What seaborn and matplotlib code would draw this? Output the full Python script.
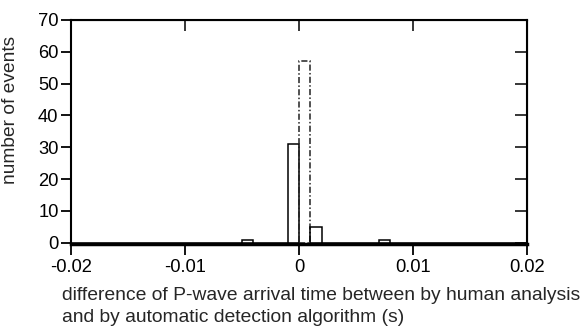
import matplotlib
matplotlib.use("Agg")
import matplotlib.pyplot as plt
import seaborn as sns
import numpy as np

# data: histogram bins (s) and counts
bin_edges = [-0.02 + 0.001 * i for i in range(41)]
bin_centers = [-0.0045, -0.0005, 0.0005, 0.0015, 0.0075]
counts = [1, 31, 57, 5, 1]
xticks = [-0.02, -0.01, 0, 0.01, 0.02]
xticklabels = ["-0.02", "-0.01", "0", "0.01", "0.02"]
yticks = [0, 10, 20, 30, 40, 50, 60, 70]

sns.set_style("white")
plt.rcParams['font.family'] = ['Liberation Sans', 'DejaVu Sans']

fig = plt.figure(figsize=(5.86, 3.29), dpi=100)
ax = fig.add_axes([71/586, 1-244/329, (527-71)/586, (244-20)/329])

sns.histplot(x=bin_centers, weights=counts, bins=bin_edges, fill=False,
             element="bars", color="black", edgecolor="black", linewidth=1.1, ax=ax)
# the tallest bar is drawn with a broken outline in the reference
tallest = max(ax.patches, key=lambda p: p.get_height())
tallest.set_linestyle((0, (4, 1.5, 1, 1.5)))
tallest.set_edgecolor("#222222")

ax.set_xlim(-0.02, 0.02)
ax.set_ylim(-0.4, 70)
ax.set_xticks(xticks)
ax.set_xticklabels(xticklabels)
ax.set_yticks(yticks)
for s in ax.spines.values():
    s.set_visible(True)
    s.set_color("black")
    s.set_linewidth(1.5)
ax.spines['bottom'].set_linewidth(2.5)

ax.tick_params(axis='x', which='both', bottom=True, top=False, direction='out',
               length=8, width=1.3, labelsize=13.2, pad=3, colors='black')
ax.tick_params(axis='y', which='both', left=True, right=False, direction='out',
               length=7, width=1.3, labelsize=13.2, pad=2, colors='black')
# inner ticks on top and right
axt = ax.secondary_xaxis('top')
axt.set_xticks(xticks)
axt.set_xticklabels([])
axt.tick_params(direction='in', length=8, width=1.3)
axr = ax.secondary_yaxis('right')
axr.set_yticks(yticks)
axr.set_yticklabels([])
axr.tick_params(direction='in', length=9, width=1.3)

ax.set_ylabel("number of events", fontsize=13.8)
ax.yaxis.set_label_coords(-(71-19)/456, (244-110)/224)
ax.set_xlabel("")
fig.text(62/586, 1-296/329, "difference of P-wave arrival time between by human analysis",
         fontsize=13.9, ha='left', va='center')
fig.text(62/586, 1-318/329, "and by automatic detection algorithm (s)",
         fontsize=13.9, ha='left', va='center')

fig.savefig("out.png", dpi=100)
